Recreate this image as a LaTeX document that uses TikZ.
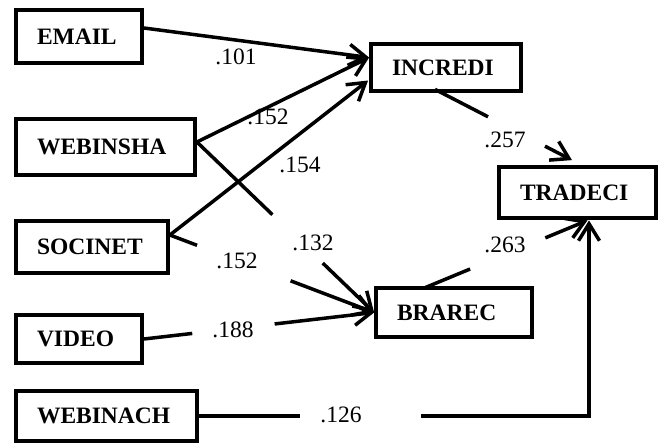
\documentclass[tikz,border=0pt]{standalone}
\usepackage{fontspec}
\setmainfont{Liberation Serif}
\usetikzlibrary{arrows.meta,calc}
\begin{document}
\begin{tikzpicture}[x=1pt,y=-1pt,
  box/.style={draw,line width=3.8pt,inner xsep=21pt,inner ysep=0pt,align=left,
    font=\fontsize{23.5}{27}\selectfont\bfseries},
  lbl/.style={inner sep=0pt,font=\fontsize{23.5}{27}\selectfont},
  conn/.style={line width=3.5pt},
  arr/.style={conn,-{Straight Barb[length=17pt,width=21pt]}}]
\useasboundingbox (0,0) rectangle (661,444);
% boxes
\node[box,text width=84pt,minimum height=53pt] (EMAIL) at (79,36.5) {EMAIL};
\node[box,text width=137pt,minimum height=56pt] (WEBINSHA) at (105.5,147) {WEBINSHA};
\node[box,text width=110pt,minimum height=52pt] (SOCINET) at (92,247) {SOCINET};
\node[box,text width=84pt,minimum height=48pt] (VIDEO) at (79,339) {VIDEO};
\node[box,text width=139pt,minimum height=50pt] (WEBINACH) at (106.5,416) {WEBINACH};
\node[box,text width=108pt,minimum height=47pt] (INCREDI) at (446,67.5) {INCREDI};
\node[box,text width=115pt,minimum height=51pt] (TRADECI) at (577.5,192.5) {TRADECI};
\node[box,text width=114pt,minimum height=49pt] (BRAREC) at (454,312.5) {BRAREC};
% attachment points
\coordinate (em-o) at ($(EMAIL.east)+(0,-8.5)$);
\coordinate (inc-i1) at ($(INCREDI.west)+(0,-10)$);
\coordinate (ws-o) at ($(WEBINSHA.east)+(0,-5)$);
\coordinate (soc-o) at ($(SOCINET.east)+(0,-12)$);
\coordinate (inc-i2) at ($(INCREDI.west)+(-1,13)$);
\coordinate (inc-o) at ($(INCREDI.south)+(-11,-3.5)$);
\coordinate (tr-i1) at ($(TRADECI.north)+(-5.5,-5)$);
\coordinate (br-o) at ($(BRAREC.north)+(-30,2)$);
\coordinate (tr-i2) at ($(TRADECI.south)+(10,0.5)$);
\coordinate (tr-i3) at ($(TRADECI.south)+(11.5,0.5)$);
\coordinate (wcorner) at (tr-i3 |- WEBINACH.east);
% connectors into INCREDI
\draw[arr] (em-o) -- (inc-i1);
\draw[arr] (ws-o) -- (inc-i1);
\draw[arr] (soc-o) -- (inc-i2);
% connectors into BRAREC
\draw[conn] (ws-o) -- ($(ws-o)!0.426!(BRAREC.west)$);
\draw[arr] ($(ws-o)!0.710!(BRAREC.west)$) -- (BRAREC.west);
\draw[conn] (soc-o) -- ($(soc-o)!0.133!(BRAREC.west)$);
\draw[arr] ($(soc-o)!0.591!(BRAREC.west)$) -- (BRAREC.west);
\draw[conn] (VIDEO.east) -- ($(VIDEO.east)!0.21!(BRAREC.west)$);
\draw[arr] ($(VIDEO.east)!0.568!(BRAREC.west)$) -- (BRAREC.west);
% connectors into TRADECI
\draw[conn] (inc-o) -- ($(inc-o)!0.387!(tr-i1)$);
\draw[arr] ($(inc-o)!0.803!(tr-i1)$) -- (tr-i1);
\draw[conn] (br-o) -- ($(br-o)!0.282!(tr-i2)$);
\draw[arr] ($(br-o)!0.742!(tr-i2)$) -- (tr-i2);
\draw[conn] (WEBINACH.east) -- ($(WEBINACH.east)!0.259!(wcorner)$);
\draw[arr] ($(WEBINACH.east)!0.569!(wcorner)$) -- (wcorner) -- (tr-i3);
% labels
\node[lbl] (l101) at (236,57) {.101};
\node[lbl] (l152a) at (268,117) {.152};
\node[lbl] (l154) at (300,165) {.154};
\node[lbl] (l132) at (313,243) {.132};
\node[lbl] (l152b) at (237,261) {.152};
\node[lbl] (l188) at (233,330) {.188};
\node[lbl] (l126) at (341,415) {.126};
\node[lbl] (l257) at (505,140) {.257};
\node[lbl] (l263) at (505,245) {.263};
\end{tikzpicture}
\end{document}
